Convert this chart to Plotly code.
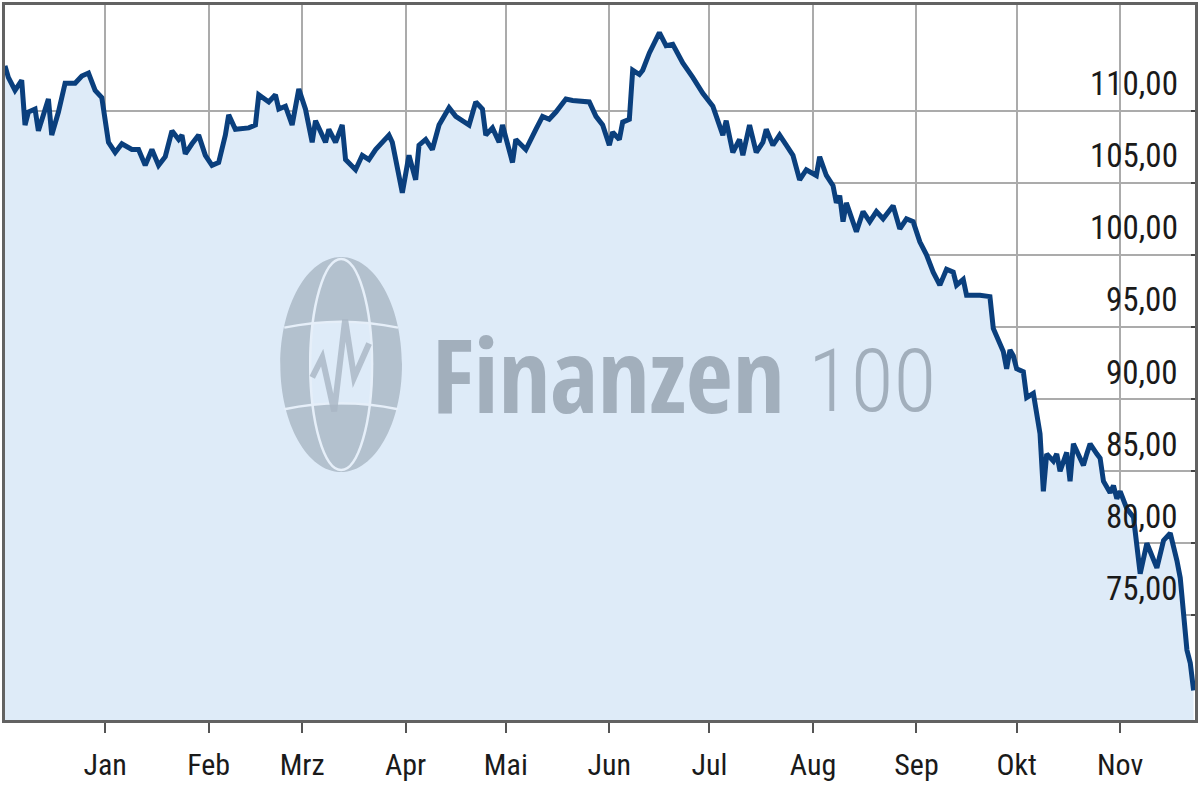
import plotly.graph_objects as go

# ---- data ----
dates = [
    "2021-12-02", "2021-12-03", "2021-12-05", "2021-12-07", "2021-12-08", "2021-12-09", "2021-12-11",
    "2021-12-12", "2021-12-15", "2021-12-16", "2021-12-18", "2021-12-20", "2021-12-23", "2021-12-25",
    "2021-12-27", "2021-12-29", "2021-12-31",
    "2022-01-02", "2022-01-04", "2022-01-06", "2022-01-09", "2022-01-11", "2022-01-13", "2022-01-15",
    "2022-01-17", "2022-01-19", "2022-01-21", "2022-01-23", "2022-01-24", "2022-01-25", "2022-01-27",
    "2022-01-29", "2022-01-31",
    "2022-02-02", "2022-02-04", "2022-02-06", "2022-02-07", "2022-02-09", "2022-02-13", "2022-02-15",
    "2022-02-16", "2022-02-18", "2022-02-19", "2022-02-21", "2022-02-22", "2022-02-24", "2022-02-26",
    "2022-02-28",
    "2022-03-02", "2022-03-04", "2022-03-05", "2022-03-08", "2022-03-09", "2022-03-11", "2022-03-13",
    "2022-03-14", "2022-03-17", "2022-03-19", "2022-03-21", "2022-03-23", "2022-03-25", "2022-03-27",
    "2022-03-28", "2022-03-31",
    "2022-04-02", "2022-04-04", "2022-04-05", "2022-04-07", "2022-04-09", "2022-04-11", "2022-04-14",
    "2022-04-16", "2022-04-20", "2022-04-22", "2022-04-24", "2022-04-25", "2022-04-27", "2022-04-29",
    "2022-04-30",
    "2022-05-03", "2022-05-04", "2022-05-07", "2022-05-10", "2022-05-12", "2022-05-14", "2022-05-16",
    "2022-05-19", "2022-05-21", "2022-05-26", "2022-05-28", "2022-05-30",
    "2022-06-01", "2022-06-02", "2022-06-04", "2022-06-05", "2022-06-07", "2022-06-08", "2022-06-10",
    "2022-06-11", "2022-06-13", "2022-06-16", "2022-06-17", "2022-06-18", "2022-06-20", "2022-06-23",
    "2022-06-26", "2022-06-29",
    "2022-07-02", "2022-07-05", "2022-07-06", "2022-07-08", "2022-07-10", "2022-07-11", "2022-07-13",
    "2022-07-15", "2022-07-17", "2022-07-18", "2022-07-20", "2022-07-22", "2022-07-24", "2022-07-26",
    "2022-07-28", "2022-07-30",
    "2022-08-02", "2022-08-03", "2022-08-05", "2022-08-07", "2022-08-08", "2022-08-09", "2022-08-10",
    "2022-08-11", "2022-08-14", "2022-08-16", "2022-08-18", "2022-08-20", "2022-08-22", "2022-08-25",
    "2022-08-27", "2022-08-29", "2022-08-31",
    "2022-09-02", "2022-09-04", "2022-09-06", "2022-09-08", "2022-09-10", "2022-09-12", "2022-09-13",
    "2022-09-15", "2022-09-16", "2022-09-20", "2022-09-23", "2022-09-24", "2022-09-26", "2022-09-27",
    "2022-09-28", "2022-09-29", "2022-09-30",
    "2022-10-01", "2022-10-03", "2022-10-04", "2022-10-06", "2022-10-07", "2022-10-08", "2022-10-09",
    "2022-10-10", "2022-10-12", "2022-10-13", "2022-10-14", "2022-10-16", "2022-10-17", "2022-10-18",
    "2022-10-20", "2022-10-21", "2022-10-22", "2022-10-23", "2022-10-25", "2022-10-26", "2022-10-27",
    "2022-10-29", "2022-10-30", "2022-10-31",
    "2022-11-01", "2022-11-03", "2022-11-05", "2022-11-06", "2022-11-07", "2022-11-09", "2022-11-11",
    "2022-11-12", "2022-11-14", "2022-11-16", "2022-11-18", "2022-11-19", "2022-11-21", "2022-11-22",
    "2022-11-23",
]
prices = [
    113.1, 112.3, 111.4, 112.1, 109.0, 109.9, 110.1,
    108.6, 110.8, 108.3, 109.9, 111.9, 111.9, 112.4,
    112.6, 111.4, 110.9,
    107.8, 107.1, 107.7, 107.3, 107.3, 106.2, 107.3,
    106.2, 106.8, 108.6, 108.0, 108.3, 107.0, 107.7,
    108.3, 106.9,
    106.2, 106.4, 108.3, 109.7, 108.7, 108.8, 109.0,
    111.1, 110.8, 110.6, 111.1, 110.1, 110.3, 109.0,
    111.5,
    110.1, 107.8, 109.3, 107.8, 108.7, 107.8, 109.0,
    106.6, 105.9, 106.9, 106.6, 107.3, 107.8, 108.3,
    107.8, 104.3,
    106.9, 105.2, 107.6, 108.0, 107.3, 109.0, 110.2,
    109.6, 109.0, 110.6, 110.1, 108.3, 108.8, 107.8,
    109.0,
    106.4, 108.0, 107.3, 108.7, 109.6, 109.4, 109.9,
    110.8, 110.7, 110.6, 109.6, 109.0,
    107.6, 108.5, 108.0, 109.2, 109.4, 112.8, 112.5,
    112.8, 114.0, 115.4, 114.9, 114.5, 114.6, 113.3,
    112.3, 111.2,
    110.3, 108.3, 109.3, 107.1, 108.0, 106.9, 109.0,
    107.1, 107.8, 108.7, 107.6, 108.3, 107.6, 106.9,
    105.2, 105.9,
    105.5, 106.8, 105.5, 104.8, 103.6, 104.1, 102.3,
    103.6, 101.6, 103.0, 102.3, 103.0, 102.5, 103.4,
    101.8, 102.5, 102.3,
    100.9, 100.0, 98.8, 97.9, 99.0, 98.8, 97.9,
    98.3, 97.2, 97.2, 97.1, 94.9, 93.8, 93.3,
    92.1, 93.4, 93.0,
    92.1, 91.9, 90.1, 90.4, 88.7, 87.6, 83.6,
    86.2, 85.7, 86.2, 85.0, 86.3, 84.3, 86.9,
    85.9, 85.4, 86.2, 86.9, 86.2, 85.9, 84.3,
    83.5, 84.0, 83.1,
    83.6, 82.4, 81.8, 80.0, 77.9, 80.0, 79.0,
    78.3, 80.2, 80.7, 78.8, 77.6, 72.6, 71.7,
    69.8,
]

month_ticks = ["2022-01-01", "2022-02-01", "2022-03-01", "2022-04-01", "2022-05-01", "2022-06-01",
               "2022-07-01", "2022-08-01", "2022-09-01", "2022-10-01", "2022-11-01"]
month_labels = ["Jan", "Feb", "Mrz", "Apr", "Mai", "Jun", "Jul", "Aug", "Sep", "Okt", "Nov"]
y_ticks = [75, 80, 85, 90, 95, 100, 105, 110]
y_labels = ["75,00", "80,00", "85,00", "90,00", "95,00", "100,00", "105,00", "110,00"]

# ---- styling ----
W, H = 1200, 800
L, R, T, B = 2, 5, 2, 80
PW, PH = W - L - R, H - T - B
BG_FILL = "#deebf8"
LOGO = "rgb(170,183,197)"
WM_TEXT = "rgba(138,151,165,0.72)"


def fx(px):
    return (px - L) / PW


def fy(py):
    return (H - B - py) / PH


def ellipse_path(cx, cy, rx, ry):
    k = 0.5523
    pts = [
        (cx, cy - ry),
        (cx + k * rx, cy - ry), (cx + rx, cy - k * ry), (cx + rx, cy),
        (cx + rx, cy + k * ry), (cx + k * rx, cy + ry), (cx, cy + ry),
        (cx - k * rx, cy + ry), (cx - rx, cy + k * ry), (cx - rx, cy),
        (cx - rx, cy - k * ry), (cx - k * rx, cy - ry), (cx, cy - ry),
    ]
    p = [f"M {fx(pts[0][0])},{fy(pts[0][1])}"]
    for i in range(1, 13, 3):
        a, b, c = pts[i], pts[i + 1], pts[i + 2]
        p.append(f"C {fx(a[0])},{fy(a[1])} {fx(b[0])},{fy(b[1])} {fx(c[0])},{fy(c[1])}")
    return " ".join(p) + " Z"


fig = go.Figure()
fig.add_trace(go.Scatter(
    x=dates, y=prices, mode="lines",
    line=dict(color="#0a3f7d", width=5),
    fill="tozeroy", fillcolor=BG_FILL,
    hoverinfo="skip", showlegend=False,
))

shapes = []
# globe logo of the watermark (over the fill, semi transparent so the grid shows through)
window = (f"M {fx(310)},{fy(321)} L {fx(368)},{fy(321)} Q {fx(374)},{fy(362)} {fx(368)},{fy(403)} "
          f"L {fx(310)},{fy(403)} Q {fx(304)},{fy(362)} {fx(310)},{fy(321)} Z")
shapes.append(dict(type="path", xref="paper", yref="paper", layer="above",
                   path=ellipse_path(339, 363, 61, 108) + " " + window,
                   fillcolor=LOGO, fillrule="evenodd", opacity=0.82, line=dict(width=0)))
shapes.append(dict(type="path", xref="paper", yref="paper", layer="above",
                   path=ellipse_path(339, 363, 31, 106),
                   line=dict(color="#e6eff9", width=2.5)))
for yy, half in [(321, 57), (403, 57)]:
    shapes.append(dict(type="path", xref="paper", yref="paper", layer="above",
                       path=f"M {fx(339 - half)},{fy(yy + 5)} Q {fx(339)},{fy(yy - 7)} {fx(339 + half)},{fy(yy + 5)}",
                       line=dict(color="#e6eff9", width=2.5)))
zig = [(310, 376), (320, 356), (332, 410), (343, 318), (352, 376), (367, 342)]
shapes.append(dict(type="path", xref="paper", yref="paper", layer="above",
                   path="M " + " L ".join(f"{fx(a)},{fy(b)}" for a, b in zig),
                   line=dict(color=LOGO, width=6), opacity=0.82))

annotations = [
    dict(text="Finanzen", xref="paper", yref="paper", x=fx(428), y=fy(372),
         xanchor="left", yanchor="middle", showarrow=False,
         font=dict(family="Open Sans Condensed, Roboto Condensed, sans-serif", size=102,
                   color=WM_TEXT, weight=700)),
    dict(text="100", xref="paper", yref="paper", x=fx(805), y=fy(379),
         xanchor="left", yanchor="middle", showarrow=False,
         font=dict(family="Roboto Condensed, sans-serif", size=88,
                   color=WM_TEXT, weight=300)),
]
# value labels of the y axis, drawn inside the plot area just above their grid lines
for v, lab in zip(y_ticks, y_labels):
    annotations.append(dict(text=lab, xref="paper", yref="y", x=fx(1180), y=v,
                            xanchor="right", yanchor="middle", yshift=27, showarrow=False,
                            font=dict(family="Roboto Condensed, Arial, sans-serif", size=33,
                                      color="#1a1a1a")))

fig.update_layout(
    width=W, height=H,
    margin=dict(l=L, r=R, t=T, b=B),
    paper_bgcolor="white", plot_bgcolor="white",
    shapes=shapes,
    annotations=annotations,
    font=dict(family="Roboto Condensed, Arial, sans-serif", color="#1a1a1a"),
    xaxis=dict(
        type="date", range=["2021-12-02", "2022-11-23 10:00"],
        tickmode="array", tickvals=month_ticks, ticktext=month_labels,
        showgrid=True, gridcolor="#ababab", gridwidth=2,
        ticks="outside", ticklen=10, tickwidth=2, tickcolor="#555555",
        showline=True, linecolor="#626262", linewidth=3, mirror=True,
        tickfont=dict(size=30, color="#1a1a1a"),
        ticklabelstandoff=6,
        zeroline=False, fixedrange=True,
    ),
    yaxis=dict(
        range=[67.75, 117.32], side="right",
        tickmode="array", tickvals=y_ticks, showticklabels=False,
        ticks="inside", ticklen=4, tickwidth=2, tickcolor="#444444",
        showgrid=True, gridcolor="#ababab", gridwidth=2,
        showline=True, linecolor="#626262", linewidth=3, mirror=True,
        zeroline=False, fixedrange=True,
    ),
)

fig.write_html("out.html", config={"displayModeBar": False},
               post_script="document.body.style.margin='0px';")
